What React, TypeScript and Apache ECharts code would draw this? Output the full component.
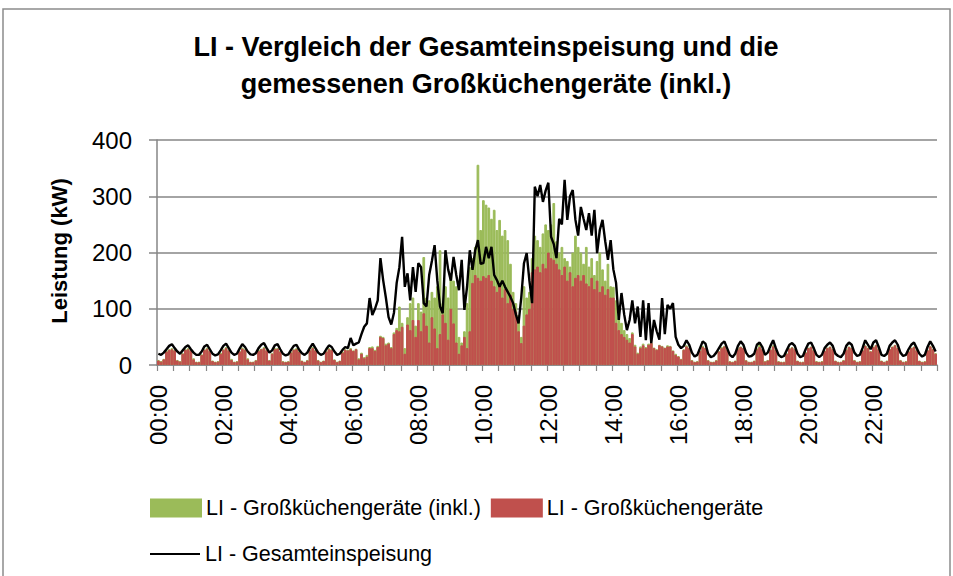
import React, { useEffect, useRef } from "react";
import * as echarts from "echarts";

const FONT = '"Liberation Sans", Arial, sans-serif';

const titleLines = [
  "LI - Vergleich der Gesamteinspeisung und die",
  "gemessenen Großküchengeräte (inkl.)",
];
const yAxisTitle = "Leistung (kW)";
const seriesNames = [
  "LI - Großküchengeräte (inkl.)",
  "LI - Großküchengeräte",
  "LI - Gesamteinspeisung",
];

// 5-minute time categories 00:00 … 23:55
const times: string[] = [];
for (let h = 0; h < 24; h++) {
  for (let m = 0; m < 60; m += 5) {
    times.push(String(h).padStart(2, "0") + ":" + String(m).padStart(2, "0"));
  }
}

// LI - Gesamteinspeisung (kW), 5-min values
const total = [
  20, 18, 22, 28, 34, 37, 30, 24, 20, 26, 32, 35,
  28, 22, 18, 18, 24, 33, 36, 28, 20, 17, 19, 26,
  34, 38, 30, 22, 18, 20, 29, 37, 32, 24, 19, 18,
  21, 30, 36, 39, 30, 22, 26, 35, 37, 28, 20, 17,
  19, 27, 34, 36, 27, 21, 18, 22, 31, 38, 30, 22,
  18, 20, 28, 35, 32, 24, 18, 20, 27, 32, 30, 48,
  35, 38, 40, 55, 68, 74, 119, 89, 100, 115, 190, 151,
  120, 85, 72, 93, 146, 174, 228, 139, 163, 115, 174, 130,
  181, 174, 110, 104, 160, 185, 213, 150, 104, 92, 204, 170,
  150, 192, 160, 133, 187, 98, 140, 204, 169, 204, 222, 180,
  181, 210, 190, 210, 160, 151, 139, 150, 139, 130, 121, 110,
  90, 74, 120, 181, 199, 150, 110, 317, 300, 320, 290, 310,
  324, 228, 215, 190, 260, 250, 329, 258, 300, 311, 258, 230,
  281, 260, 240, 270, 230, 276, 199, 240, 258, 220, 187, 222,
  170, 146, 80, 128, 90, 62, 80, 115, 74, 104, 50, 115,
  44, 110, 39, 80, 60, 45, 119, 55, 107, 100, 110, 50,
  36, 30, 34, 44, 36, 22, 15, 18, 30, 42, 38, 20,
  14, 16, 22, 30, 38, 42, 30, 18, 14, 20, 34, 42,
  36, 22, 15, 16, 20, 36, 40, 32, 18, 22, 34, 44,
  30, 18, 14, 16, 26, 36, 39, 34, 20, 14, 16, 28,
  38, 40, 30, 18, 14, 18, 30, 36, 40, 34, 20, 16,
  14, 20, 34, 40, 36, 22, 16, 18, 30, 44, 36, 28,
  40, 44, 32, 18, 16, 20, 34, 40, 44, 36, 22, 16,
  18, 28, 36, 40, 30, 20, 15, 18, 32, 42, 34, 24,
];

// LI - Großküchengeräte (inkl.) (kW)
const inkl = [
  9, 7, 11, 26, 28, 30, 27, 9, 7, 21, 28, 30,
  27, 12, 6, 6, 19, 28, 31, 26, 8, 6, 7, 22,
  28, 32, 27, 11, 6, 7, 25, 31, 28, 12, 6, 6,
  9, 27, 29, 32, 27, 9, 21, 30, 30, 25, 7, 6,
  7, 23, 28, 30, 25, 8, 6, 9, 27, 32, 27, 9,
  6, 8, 25, 30, 28, 10, 6, 8, 24, 28, 27, 30,
  26, 29, 12, 22, 14, 18, 32, 33, 27, 34, 52, 50,
  38, 40, 32, 58, 66, 104, 75, 30, 85, 110, 120, 70,
  110, 95, 192, 120, 115, 130, 120, 140, 204, 110, 140, 120,
  160, 150, 140, 50, 40, 60, 110, 174, 190, 210, 356, 240,
  293, 285, 280, 260, 276, 240, 258, 230, 240, 222, 180, 130,
  110, 89, 50, 140, 120, 130, 190, 230, 222, 210, 234, 250,
  240, 250, 288, 220, 200, 210, 190, 185, 175, 200, 230, 210,
  200, 180, 210, 175, 190, 160, 185, 200, 170, 150, 180, 140,
  139, 115, 85, 75, 62, 55, 48, 58, 36, 22, 33, 38,
  32, 38, 40, 31, 28, 36, 34, 31, 35, 34, 26, 20,
  16, 11, 28, 35, 31, 9, 6, 7, 26, 34, 31, 9,
  6, 6, 9, 25, 32, 34, 28, 7, 6, 8, 30, 33,
  31, 9, 6, 6, 8, 30, 40, 29, 7, 9, 28, 35,
  28, 7, 6, 6, 21, 30, 32, 29, 8, 6, 6, 23,
  31, 33, 27, 7, 6, 7, 26, 31, 33, 29, 8, 6,
  6, 9, 28, 33, 31, 9, 6, 7, 27, 35, 31, 25,
  33, 36, 29, 8, 6, 8, 29, 33, 36, 31, 9, 6,
  7, 25, 31, 33, 27, 8, 6, 7, 27, 34, 29, 21,
];

// LI - Großküchengeräte (kW)
const geraete = [
  8, 6, 10, 24, 27, 28, 26, 8, 6, 20, 27, 28,
  26, 10, 5, 5, 18, 27, 29, 25, 7, 5, 6, 20,
  27, 30, 26, 9, 5, 6, 24, 29, 27, 10, 5, 5,
  8, 25, 28, 30, 26, 8, 20, 28, 29, 24, 6, 5,
  6, 22, 27, 28, 24, 7, 5, 8, 26, 30, 26, 8,
  5, 7, 24, 28, 27, 9, 5, 7, 22, 27, 26, 28,
  25, 28, 10, 20, 12, 15, 30, 30, 25, 32, 50, 48,
  35, 38, 30, 55, 62, 60, 68, 20, 72, 62, 80, 50,
  80, 60, 92, 70, 40, 85, 65, 30, 55, 90, 75, 45,
  100, 74, 40, 20, 35, 50, 30, 60, 146, 160, 155, 150,
  158, 155, 160, 150, 140, 130, 145, 120, 135, 110, 125, 100,
  95, 60, 39, 70, 90, 100, 165, 170, 175, 165, 180, 172,
  200, 190, 187, 180, 170, 160, 175, 150, 165, 140, 155, 160,
  150, 160, 145, 140, 155, 135, 150, 130, 140, 125, 135, 120,
  120, 75, 62, 55, 50, 45, 40, 55, 33, 20, 30, 35,
  30, 36, 39, 30, 27, 35, 33, 30, 33, 33, 25, 18,
  15, 10, 27, 33, 30, 8, 5, 6, 25, 32, 30, 8,
  5, 5, 8, 24, 30, 33, 27, 6, 5, 7, 28, 32,
  30, 8, 5, 5, 7, 28, 32, 28, 6, 8, 27, 33,
  27, 6, 5, 5, 20, 29, 31, 28, 7, 5, 5, 22,
  30, 32, 26, 6, 5, 6, 25, 30, 32, 28, 7, 5,
  5, 8, 27, 32, 30, 8, 5, 6, 26, 34, 30, 24,
  32, 35, 28, 7, 5, 7, 28, 32, 35, 30, 8, 5,
  6, 24, 30, 32, 26, 7, 5, 6, 26, 33, 28, 20,
];

const GREEN = "#9BBB59";
const RED = "#C0504D";
const GRID_GRAY = "#868686";

export default function App() {
  const ref = useRef<HTMLDivElement>(null);

  useEffect(() => {
    if (!ref.current) return;
    const chart = echarts.init(ref.current, null, { renderer: "svg" });
    const option: any = {
      animation: false,
      backgroundColor: "#fff",
      grid: { left: 157, right: 16, top: 140, bottom: 211, containLabel: false },
      graphic: [
        {
          type: "rect",
          silent: true,
          z: -10,
          shape: { x: 3, y: 9, width: 947, height: 620 },
          style: { fill: "none", stroke: "#8c8c8c", lineWidth: 1.5 },
        },
        {
          type: "text",
          x: 486,
          y: 47,
          style: {
            text: titleLines[0],
            align: "center",
            verticalAlign: "middle",
            fontFamily: FONT,
            fontSize: 27,
            fontWeight: "bold",
            fill: "#000",
          },
        },
        {
          type: "text",
          x: 486,
          y: 84,
          style: {
            text: titleLines[1],
            align: "center",
            verticalAlign: "middle",
            fontFamily: FONT,
            fontSize: 27,
            fontWeight: "bold",
            fill: "#000",
          },
        },
        {
          type: "text",
          x: 59,
          y: 251,
          rotation: Math.PI / 2,
          style: {
            text: yAxisTitle,
            align: "center",
            verticalAlign: "middle",
            fontFamily: FONT,
            fontSize: 22,
            fontWeight: "bold",
            fill: "#000",
          },
        },
      ],
      legend: [
        {
          data: [seriesNames[0], seriesNames[1]],
          left: 145,
          top: 492,
          itemWidth: 50,
          itemHeight: 17,
          itemGap: 10,
          icon: "rect",
          textStyle: { fontFamily: FONT, fontSize: 21.5, color: "#000" },
        },
        {
          data: [{ name: seriesNames[2], icon: "rect" }],
          left: 145,
          top: 538,
          itemWidth: 50,
          itemHeight: 2,
          itemStyle: { color: "#000", borderWidth: 0 },
          lineStyle: { width: 0 },
          textStyle: { fontFamily: FONT, fontSize: 21.5, color: "#000" },
        },
      ],
      xAxis: {
        type: "category",
        data: times,
        boundaryGap: true,
        axisLine: { lineStyle: { color: GRID_GRAY, width: 1.5 } },
        axisTick: {
          show: true,
          interval: 5,
          length: 6,
          lineStyle: { color: GRID_GRAY, width: 1.2 },
        },
        axisLabel: {
          interval: 23,
          rotate: 90,
          margin: 20,
          fontFamily: FONT,
          fontSize: 24,
          color: "#000",
        },
        splitLine: { show: false },
      },
      yAxis: {
        type: "value",
        min: 0,
        max: 400,
        interval: 100,
        axisLine: { show: true, lineStyle: { color: GRID_GRAY, width: 1.5 } },
        axisTick: { show: true, length: 8, lineStyle: { color: GRID_GRAY, width: 1.5 } },
        axisLabel: { margin: 25, fontFamily: FONT, fontSize: 24, color: "#000" },
        splitLine: { show: true, lineStyle: { color: GRID_GRAY, width: 1.5 } },
      },
      series: [
        {
          name: seriesNames[0],
          type: "bar",
          data: inkl,
          barGap: "-100%",
          barCategoryGap: "0%",
          itemStyle: { color: GREEN, borderColor: GREEN, borderWidth: 1 },
        },
        {
          name: seriesNames[1],
          type: "bar",
          data: geraete,
          barGap: "-100%",
          barCategoryGap: "0%",
          itemStyle: { color: RED, borderColor: RED, borderWidth: 1 },
        },
        {
          name: seriesNames[2],
          type: "line",
          data: total,
          symbol: "none",
          showSymbol: false,
          lineStyle: { color: "#000", width: 2.4 },
          itemStyle: { color: "#000" },
          z: 5,
        },
      ],
    };
    chart.setOption(option);
    return () => chart.dispose();
  }, []);

  return (
    <div
      ref={ref}
      style={{ position: "absolute", left: 0, top: 0, width: 953, height: 576 }}
    />
  );
}
